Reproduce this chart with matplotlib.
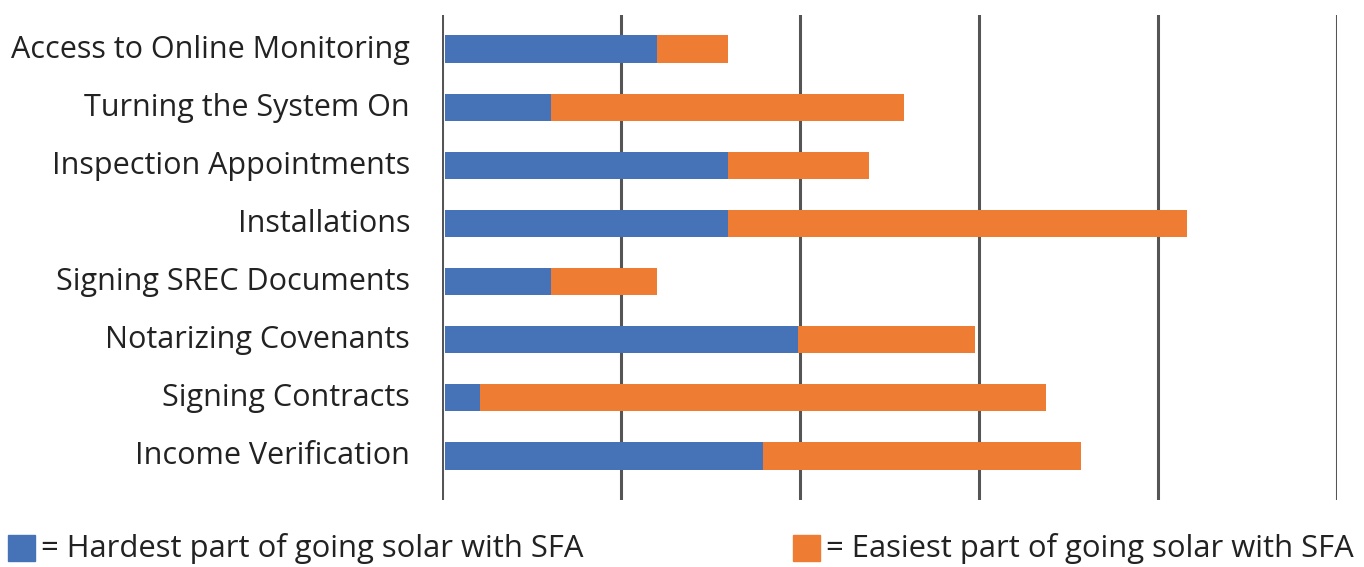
import matplotlib
matplotlib.use("Agg")
import matplotlib.pyplot as plt
import matplotlib.transforms as mtransforms
import numpy as np
from matplotlib.patches import Rectangle

categories = [
    "Access to Online Monitoring",
    "Turning the System On",
    "Inspection Appointments",
    "Installations",
    "Signing SREC Documents",
    "Notarizing Covenants",
    "Signing Contracts",
    "Income Verification",
]
hardest = [6, 3, 8, 8, 3, 10, 1, 9]
easiest = [2, 10, 4, 13, 3, 5, 16, 9]

BLUE = "#4672B8"
ORANGE = "#EE7D33"
GRID = "#555555"
TEXT = "#222222"

plt.rcParams["font.family"] = ["Open Sans", "DejaVu Sans"]

W, H = 1364, 567
fig = plt.figure(figsize=(W / 100, H / 100), dpi=100)
ax = fig.add_axes([442 / W, 1 - 500 / H, (1337 - 442) / W, (500 - 15) / H])

y = list(range(len(categories)))
ax.barh(y, hardest, height=0.465, color=BLUE, zorder=3)
ax.barh(y, easiest, left=hardest, height=0.465, color=ORANGE, zorder=3)

x_lo, x_hi = -0.085, 25.25
ax.set_xlim(x_lo, x_hi)
ax.set_ylim(7.757, -0.585)
# five equal bands across the plotting area
ax.set_xticks(np.linspace(x_lo, x_hi, 6))
ax.xaxis.grid(True, color=GRID, linewidth=2.2, zorder=1)
ax.tick_params(axis="x", length=0, labelbottom=False)
ax.tick_params(axis="y", length=0, pad=23, labelsize=22, labelcolor=TEXT)
ax.set_yticks(y)
ax.set_yticklabels(categories)
# lift the category labels slightly above the bar centres
lift = mtransforms.ScaledTranslation(0, 3 / 100, fig.dpi_scale_trans)
for lbl in ax.get_yticklabels():
    lbl.set_transform(lbl.get_transform() + lift)
for s in ax.spines.values():
    s.set_visible(False)

# legend built from swatches and text along the bottom
for x0, col, label in [(8, BLUE, "= Hardest part of going solar with SFA"),
                       (793, ORANGE, "= Easiest part of going solar with SFA")]:
    fig.patches.append(Rectangle((x0 / W, 1 - 561 / H), 27 / W, 26 / H,
                                 transform=fig.transFigure, color=col))
    fig.text((x0 + 33) / W, 1 - 549 / H, label, fontsize=22.3, color=TEXT,
             va="center", ha="left")

fig.savefig("out.png", dpi=100)
